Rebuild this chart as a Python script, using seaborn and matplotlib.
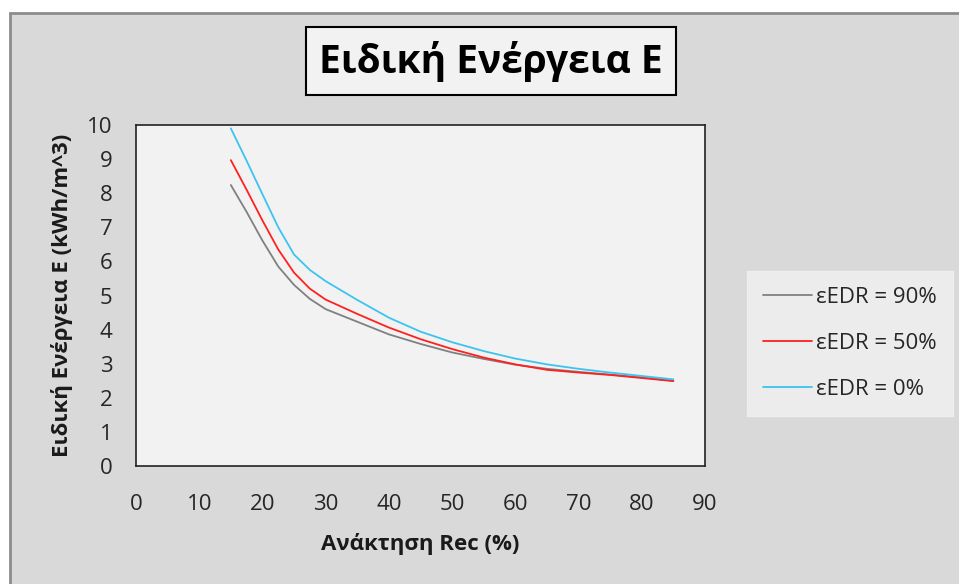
import matplotlib
matplotlib.use("Agg")
import matplotlib.pyplot as plt
from matplotlib.patches import Rectangle
from matplotlib.lines import Line2D
import seaborn as sns
import pandas as pd

# Recovery (%) and specific energy (kWh/m^3) for each EDR efficiency
recovery = [15, 17.5, 20, 22.5, 25, 27.5, 30, 35, 40, 45, 50, 55, 60, 65, 70, 75, 80, 85]
e_edr90 = [8.24, 7.45, 6.61, 5.85, 5.31, 4.90, 4.60, 4.23, 3.86, 3.58, 3.33, 3.14, 2.97, 2.85, 2.76, 2.68, 2.60, 2.50]
e_edr50 = [8.97, 8.10, 7.20, 6.35, 5.67, 5.20, 4.88, 4.46, 4.06, 3.72, 3.43, 3.18, 2.98, 2.82, 2.74, 2.67, 2.58, 2.49]
e_edr0 = [9.90, 8.95, 7.97, 7.00, 6.20, 5.75, 5.42, 4.87, 4.35, 3.94, 3.63, 3.37, 3.15, 2.98, 2.85, 2.74, 2.64, 2.54]
series_names = ["εEDR = 90%", "εEDR = 50%", "εEDR = 0%"]
series_colors = ["#808080", "#ff2020", "#3cc3f0"]
x_ticks = [0, 10, 20, 30, 40, 50, 60, 70, 80, 90]
y_ticks = [0, 1, 2, 3, 4, 5, 6, 7, 8, 9, 10]

title_text = "Ειδική Ενέργεια Ε"
x_label = "Ανάκτηση Rec (%)"
y_label = "Ειδική Ενέργεια Ε (kWh/m^3)"

frames = []
for name, vals in zip(series_names, [e_edr90, e_edr50, e_edr0]):
    frames.append(pd.DataFrame({"Rec": recovery, "E": vals, "series": name}))
df = pd.concat(frames, ignore_index=True)

sns.set_theme(style="white")
plt.rcParams["font.family"] = ["Open Sans", "DejaVu Sans"]

W, H = 959, 584
fig = plt.figure(figsize=(W / 100, H / 100), dpi=100, facecolor="white")

# chart area frame, kept behind the axes
fig.patches.append(Rectangle((10 / W, -0.02), 1.1, (H - 13) / H + 0.02,
                             transform=fig.transFigure, facecolor="#d9d9d9",
                             edgecolor="#8c8c8c", linewidth=2, zorder=-5))

ax = fig.add_axes([136 / W, 1 - 466 / H, (705 - 136) / W, (466 - 125) / H])
ax.set_facecolor("#f2f2f2")

sns.lineplot(data=df, x="Rec", y="E", hue="series", hue_order=series_names,
             palette=series_colors, linewidth=1.3, ax=ax, legend=False,
             sort=False)

ax.set_xlim(0, 90)
ax.set_ylim(0, 10)
ax.set_xticks(x_ticks)
ax.set_yticks(y_ticks)
ax.tick_params(axis="both", length=0, labelsize=16, colors="#262626")
ax.tick_params(axis="x", pad=20)
ax.tick_params(axis="y", pad=17)
for s in ax.spines.values():
    s.set_color("#222222")
    s.set_linewidth(1.2)

ax.set_xlabel(x_label, fontsize=16, fontweight="bold", labelpad=13, color="#1a1a1a")
ax.set_ylabel(y_label, fontsize=16, fontweight="bold", labelpad=10, color="#1a1a1a")

# boxed title
fig.text(491 / W, 1 - 61 / H, title_text, ha="center", va="center",
         fontsize=28, fontweight="bold", color="black",
         bbox=dict(boxstyle="square,pad=0.35", facecolor="#f2f2f2",
                   edgecolor="black", linewidth=1.5))

handles = [Line2D([0], [0], color=c, linewidth=1.3) for c in series_colors]
leg = ax.legend(handles, series_names, loc="upper left",
                bbox_to_anchor=(747 / W, 1 - 271 / H), bbox_transform=fig.transFigure,
                borderaxespad=0, frameon=True, fancybox=False,
                facecolor="#f2f2f2", edgecolor="#f2f2f2",
                fontsize=16, handlelength=2.2, handletextpad=0.2, labelspacing=1.12,
                borderpad=0.72)
leg.get_frame().set_linewidth(1)
for t in leg.get_texts():
    t.set_color("#262626")

fig.savefig("out.png", dpi=100, facecolor="white")
